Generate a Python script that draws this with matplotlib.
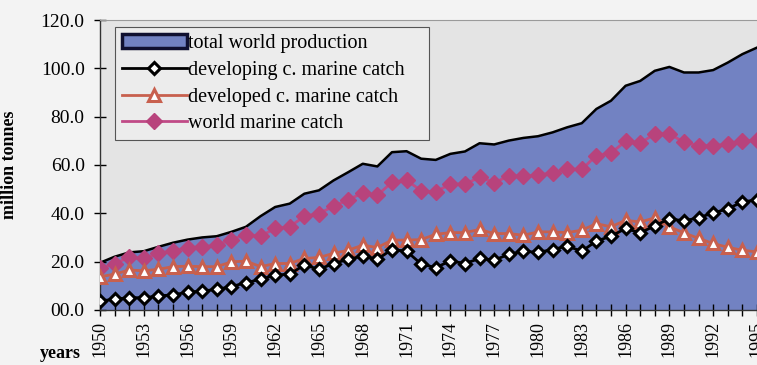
import numpy as np
import matplotlib
matplotlib.use("Agg")
import matplotlib.pyplot as plt
from matplotlib.ticker import MultipleLocator, FuncFormatter

# data (million tonnes)
years = list(range(1950, 1996))

total_world = [19.5, 22.0, 23.8, 24.3, 26.1, 27.8, 29.1, 30.0, 30.5, 32.3,
               34.4, 38.8, 42.6, 44.0, 48.1, 49.5, 53.6, 57.0, 60.5, 59.4,
               65.3, 65.7, 62.6, 62.1, 64.6, 65.6, 69.0, 68.5, 70.1, 71.2,
               71.9, 73.5, 75.6, 77.3, 83.2, 86.6, 92.8, 94.8, 99.0, 100.6,
               98.3, 98.3, 99.3, 102.4, 105.9, 108.6]

developing = [3.7, 4.4, 5.1, 5.0, 5.8, 6.2, 7.3, 7.8, 8.5, 9.6,
              11.3, 12.6, 14.4, 14.8, 18.6, 16.8, 19.2, 20.9, 22.3, 21.0,
              25.0, 24.3, 19.0, 17.5, 20.3, 19.2, 21.3, 20.6, 23.0, 24.3,
              23.8, 25.0, 26.4, 24.3, 28.5, 30.5, 33.7, 31.9, 34.8, 37.8,
              36.8, 38.2, 40.1, 41.9, 44.7, 45.6]

developed = [13.7, 14.8, 16.5, 16.2, 16.8, 17.9, 18.1, 17.9, 17.9, 19.9,
             20.2, 17.9, 19.2, 19.2, 21.3, 21.7, 23.4, 24.7, 26.8, 25.8,
             28.9, 28.9, 29.1, 31.3, 32.0, 32.0, 33.3, 31.6, 31.6, 30.9,
             32.3, 32.3, 32.0, 33.0, 35.7, 34.4, 37.1, 36.4, 38.1, 34.4,
             31.9, 29.6, 27.5, 25.9, 24.7, 24.0]

world_marine = [17.2, 19.2, 21.7, 21.3, 23.4, 24.5, 25.8, 26.1, 26.8, 29.1,
                31.2, 30.6, 33.7, 34.4, 38.8, 39.9, 42.9, 45.6, 48.4, 47.4,
                52.9, 53.6, 49.4, 48.8, 52.2, 52.0, 55.0, 52.7, 55.4, 55.5,
                55.8, 56.8, 58.3, 58.2, 63.9, 65.0, 69.8, 69.0, 72.9, 72.9,
                69.4, 68.0, 68.0, 68.7, 69.8, 70.5]

plt.rcParams['font.family'] = ['Liberation Serif', 'DejaVu Serif']

fig = plt.figure(figsize=(7.57, 3.65), dpi=100, facecolor='#f3f3f3')
ax = fig.add_axes([0.132, 0.151, 0.868, 0.794])
ax.set_facecolor('#e4e4e4')

ax.fill_between(years, 0, total_world, color='#7282c2', lw=0, zorder=1)
ax.plot(years, total_world, color='black', lw=1.8, zorder=2)
# legend proxy for the area
ax.fill_between([], [], [], facecolor='#7282c2', edgecolor='#101030', lw=2.5,
                label='total world production')

ax.plot(years, developing, color='black', lw=2, marker='D', ms=6.5,
        mfc='white', mec='black', mew=2.2, zorder=5,
        label='developing c. marine catch')
ax.plot(years, developed, color='#c8604e', lw=2, marker='^', ms=8,
        mfc='white', mec='#c8604e', mew=2.2, zorder=4,
        label='developed c. marine catch')
ax.plot(years, world_marine, color='#c04a86', lw=2, marker='D', ms=8.5,
        mfc='#b8437c', mec='#b8437c', zorder=3,
        label='world marine catch')

ax.set_xlim(1950, 1995)
ax.set_ylim(0, 120)
ax.yaxis.set_major_locator(MultipleLocator(20))
ax.yaxis.set_major_formatter(FuncFormatter(lambda v, p: '%04.1f' % v))
ax.xaxis.set_major_locator(MultipleLocator(3))
ax.xaxis.set_minor_locator(MultipleLocator(1))
ax.tick_params(axis='y', direction='inout', length=8, width=1, labelsize=14, pad=7)
ax.tick_params(axis='x', which='both', direction='inout', length=8, width=1,
               labelsize=13, labelrotation=90, pad=4)

for s in ['left', 'bottom']:
    ax.spines[s].set_color('#333333')
    ax.spines[s].set_linewidth(1)
ax.spines['top'].set_color('#9a9a9a')
ax.spines['right'].set_visible(False)

ax.set_ylabel('million tonnes', fontsize=13, fontweight='bold', labelpad=16)
fig.text(0.053, 0.02, 'years', fontsize=13, fontweight='bold')

leg = ax.legend(loc='upper left', bbox_to_anchor=(0.023, 0.572, 0.478, 0.404),
                mode='expand', fontsize=14.5,
                frameon=True, fancybox=False, edgecolor='#555555',
                facecolor='#ececec', framealpha=1, handlelength=3.2,
                handletextpad=0.05, borderpad=0.35, labelspacing=0.38,
                borderaxespad=0)
leg.get_frame().set_linewidth(0.8)

fig.savefig('out.png', dpi=100, facecolor=fig.get_facecolor())
